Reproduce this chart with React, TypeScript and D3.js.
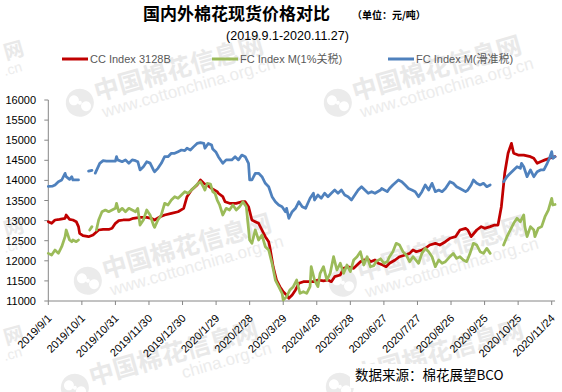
import React from "react";
import * as d3 from "d3";

// ---- Data (day offset from 2019-09-01, value in 元/吨) ----
const startDate = new Date(2019, 8, 1);

const xTickLabels = [
  "2019/9/1", "2019/10/1", "2019/10/31", "2019/11/30", "2019/12/30", "2020/1/29",
  "2020/2/28", "2020/3/29", "2020/4/28", "2020/5/28", "2020/6/27", "2020/7/27",
  "2020/8/26", "2020/9/25", "2020/10/25", "2020/11/24",
];
const yTicks = [11000, 11500, 12000, 12500, 13000, 13500, 14000, 14500, 15000, 15500, 16000];
const seriesNames = ["CC Index 3128B", "FC Index M(1%关税)", "FC Index M(滑准税)"];
const seriesColors = ["#C00000", "#9BBB59", "#4F81BD"];

const ccIndex: [number, number | null][] = [
  [0, 12973], [3, 12932], [6, 13015], [10, 13030], [15, 13057], [16, 13140], [19, 13030],
  [22, 13015], [25, 12973], [27, 12850], [28, 12684], [31, 12625], [36, 12600], [40, 12640],
  [45, 12766], [49, 12780], [54, 12780], [57, 12808], [60, 12932], [63, 12998], [67, 13015],
  [72, 13015], [76, 13057], [82, 13080], [88, 13080], [92, 13057], [95, 13015], [100, 13097],
  [104, 13140], [110, 13180], [116, 13221], [121, 13305], [124, 13595], [128, 13760],
  [133, 13886], [136, 14010], [139, 13927], [142, 13880], [146, 13800], [151, 13720],
  [152, 13680], [156, 13595], [158, 13470], [162, 13430], [168, 13430], [173, 13470],
  [176, 13470], [179, 13346], [182, 13015], [185, 12973], [188, 12932], [191, 12766],
  [194, 12600], [197, 12475], [198, 12350], [201, 11853], [204, 11522], [207, 11356],
  [210, 11231], [213, 11150], [215, 11067], [218, 11150], [221, 11274], [224, 11440],
  [228, 11480], [232, 11480], [237, 11480], [241, 11522], [246, 11500], [250, 11522],
  [253, 11480], [256, 11605], [261, 11647], [264, 11813], [268, 11853], [273, 11813],
  [276, 11895], [279, 11978], [282, 12020], [286, 12040], [288, 11978], [292, 12020],
  [295, 11938], [299, 11895], [302, 11853], [305, 11938], [310, 12020], [314, 12102],
  [319, 12144], [323, 12185], [326, 12268], [329, 12226], [334, 12268], [337, 12310],
  [341, 12393], [346, 12435], [350, 12393], [355, 12475], [359, 12560], [364, 12600],
  [368, 12766], [373, 12808], [375, 12766], [378, 12600], [383, 12766], [387, 12850],
  [390, 12808], [395, 12850], [399, 12890], [402, 12890], [405, 13346], [408, 14176],
  [411, 14675], [414, 14920], [416, 14675], [420, 14630], [425, 14630], [431, 14590],
  [434, 14550], [437, 14425], [440, 14465], [444, 14510], [448, 14550], [453, 14590],
];

const fcIndexTariff: [number, number | null][] = [
  [0, 12185], [3, 12144], [6, 12268], [9, 12185], [12, 12350], [15, 12600], [16, 12766],
  [19, 12517], [21, 12475], [22, 12517], [25, 12475], [27, 12517], [30, null],
  [37, 12766], [39, 12850], [41, null],
  [43, 12766], [45, 13015], [48, 13221], [51, 13263], [54, 13221], [57, 13263], [60, 13305],
  [61, 13430], [63, 13221], [66, 13305], [69, 13221], [72, 13305], [75, 13263], [78, 13221],
  [80, 13305], [82, 12890], [85, 13015], [88, 13263], [91, 13140], [94, 12890], [95, 12833],
  [98, 13015], [101, 13140], [104, 13430], [107, 13388], [110, 13512], [113, 13595],
  [116, 13555], [119, 13637], [122, 13720], [125, 13680], [128, 13760], [131, 13843],
  [134, 13927], [136, 13968], [139, 13820], [140, 13760], [142, 13927], [145, 13910],
  [147, 13720], [149, 13680], [151, 13512], [153, 13400], [156, 13140], [159, 13305],
  [162, 13263], [165, 13388], [168, 13263], [171, 13346], [174, 13470], [177, 13346],
  [180, 12517], [182, 12435], [185, 12766], [188, 12517], [191, 12640], [194, 12350],
  [197, 12268], [200, 11938], [203, 11522], [206, 11356], [209, 11190], [210, 11025],
  [213, 11107], [216, 11274], [219, 11356], [222, 11522], [225, 11190], [228, 11231],
  [231, 11190], [234, 11356], [235, 11853], [238, 11522], [241, 11356], [243, 11688],
  [246, 11853], [249, 11522], [252, 11688], [255, 12102], [258, 11771], [261, 11938],
  [264, 11688], [267, 11895], [270, 11730], [273, 12020], [276, 12102], [279, 12226],
  [282, 11895], [285, 12102], [288, 11850], [291, 11880], [293, 11980], [297, 12050],
  [300, 11938], [303, 11978], [305, 12102], [308, 12226], [311, 12435], [314, 12393],
  [317, 12226], [320, 12144], [323, 11978], [326, 12102], [331, 11938], [334, 12185],
  [337, 12310], [340, 12226], [343, 12102], [346, 11853], [349, 12020], [352, 11938],
  [355, 11978], [359, 12102], [362, 12185], [365, 12060], [368, 12102], [371, 12020],
  [374, 11978], [377, 12185], [380, 12435], [383, 12393], [386, 12226], [389, 12185],
  [392, 12310], [395, 12185], [400, null],
  [407, 12393], [410, 12600], [413, 12766], [416, 12932], [419, 13057], [422, 12973],
  [425, 13140], [426, 12850], [428, 12600], [431, 12850], [434, 12766], [435, 12600],
  [438, 12808], [441, 12850], [444, 13097], [447, 13263], [450, 13555], [451, 13388],
  [453, 13400],
];

const fcIndexSliding: [number, number | null][] = [
  [0, 13850], [4, 13860], [6, 13886], [9, 13968], [12, 14010], [15, 14176], [16, 14092],
  [19, 14027], [21, 14092], [22, 14010], [27, 14010], [29, null],
  [36, 14230], [39, 14250], [40, null],
  [42, 14180], [46, 14425], [49, 14490], [52, 14480], [60, 14480], [61, 14590], [62, 14510],
  [66, 14465], [69, 14510], [72, 14425], [75, 14510], [78, 14490], [80, 14465], [82, 14260],
  [85, 14340], [88, 14465], [91, 14430], [94, 14260], [95, 14215], [98, 14300], [101, 14425],
  [104, 14590], [107, 14590], [110, 14675], [113, 14675], [116, 14715], [119, 14756],
  [122, 14740], [124, 14800], [127, 14756], [130, 14840], [133, 14920], [136, 14940],
  [139, 14920], [140, 14800], [143, 14920], [146, 14880], [147, 14780], [150, 14700],
  [152, 14590], [156, 14425], [159, 14510], [164, 14510], [167, 14590], [170, 14510],
  [173, 14630], [176, 14590], [179, 14425], [180, 14010], [182, 14010], [185, 14176],
  [188, 14176], [191, 14092], [194, 13927], [197, 13843], [200, 13595], [203, 13470],
  [206, 13388], [209, 13346], [212, 13221], [213, 13305], [215, 13057], [218, 13221],
  [221, 13305], [224, 13470], [227, 13346], [230, 13305], [232, 13430], [234, 13555],
  [237, 13680], [238, 13512], [241, 13637], [244, 13555], [247, 13680], [250, 13595],
  [253, 13680], [256, 13760], [259, 13680], [262, 13760], [265, 13637], [268, 13595],
  [271, 13512], [274, 13637], [277, 13760], [280, 13843], [283, 13760], [286, 13680],
  [289, 13720], [292, 13680], [297, 13760], [298, 13800], [303, 13720], [305, 13800],
  [308, 13886], [313, 14010], [316, 13968], [319, 13886], [322, 13800], [325, 13760],
  [328, 13720], [331, 13595], [334, 13720], [337, 13886], [340, 13760], [343, 13927],
  [346, 13720], [349, 13760], [352, 13720], [355, 13800], [359, 13968], [362, 13927],
  [365, 13843], [368, 13800], [373, 13720], [375, 13760], [378, 13886], [380, 14010],
  [383, 13927], [386, 13886], [389, 13927], [392, 13843], [395, 13886], [400, null],
  [407, 13968], [410, 14092], [413, 14176], [416, 14260], [419, 14340], [422, 14300],
  [423, 14425], [425, 14340], [428, 14092], [431, 14260], [434, 14092], [437, 14215],
  [440, 14260], [443, 14260], [446, 14425], [448, 14550], [450, 14715], [451, 14550],
  [453, 14590],
];

const allSeries = [ccIndex, fcIndexTariff, fcIndexSliding];

// ---- Layout ----
const W = 562;
const H = 392;
const plotLeft = 48.3;
const plotTop = 100;
const plotBottom = 301;
const lastTickX = 551.7;
const endDate = new Date(2020, 10, 27);

const latin = "'Liberation Sans', Arial, 'Noto Sans CJK SC', sans-serif";
const cjk = "'Noto Sans CJK SC', 'Liberation Sans', sans-serif";

// Watermark ("中国棉花信息网 www.cottonchina.org.cn") placements
const watermarkText = "中国棉花信息网";
const watermarkUrl = "www.cottonchina.org.cn";
const watermarkSpots: { x: number; y: number; url: boolean; urlFrom: number; urlX: number }[] = [
  { x: 97, y: 101, url: true, urlFrom: 0, urlX: 2 },
  { x: 355, y: 101, url: true, urlFrom: 0, urlX: 2 },
  { x: 105, y: 279, url: true, urlFrom: 0, urlX: 2 },
  { x: 360, y: 281, url: true, urlFrom: 0, urlX: 2 },
  { x: 92, y: 386, url: true, urlFrom: 10, urlX: 90 },
  { x: 357, y: 385, url: false, urlFrom: 0, urlX: 2 },
];
// Fragments of watermarks at the left edge
const edgeFragments: { x: number; y: number }[] = [
  { x: 6, y: 60 },
  { x: 6, y: 237 },
  { x: 6, y: 345 },
];
const wmFill = "#e9e9e9";
const wmFillUrl = "#ececec";

function Watermark({ x, y, url, urlFrom, urlX }: { x: number; y: number; url: boolean; urlFrom: number; urlX: number }) {
  return (
    <g transform={`translate(${x},${y}) rotate(-16)`}>
      <circle cx={-17} cy={-3} r={14} fill="#ebebeb" />
      <circle cx={-22} cy={-7} r={5} fill="#fff" />
      <circle cx={-12} cy={2} r={5} fill="#fff" />
      <circle cx={-17} cy={-3} r={2} fill="#fff" />
      <text x={0} y={0} fontFamily={cjk} fontSize={25} fontWeight="bold" fill={wmFill}>
        {watermarkText}
      </text>
      {url && (
        <text x={urlX} y={18} fontFamily={latin} fontSize={17} fill={wmFillUrl}>
          {watermarkUrl.slice(urlFrom)}
        </text>
      )}
    </g>
  );
}

export default function App() {
  const parse = d3.timeParse("%Y/%m/%d");
  const tickDates = xTickLabels.map((s) => parse(s) as Date);
  const x = d3
    .scaleTime()
    .domain([tickDates[0], tickDates[tickDates.length - 1]])
    .range([plotLeft, lastTickX]);
  const y = d3.scaleLinear().domain([11000, 16000]).range([plotBottom, plotTop]);
  const xEnd = x(endDate);

  const line = d3
    .line<[number, number | null]>()
    .defined((d) => d[1] != null)
    .x((d) => x(d3.timeDay.offset(startDate, d[0])))
    .y((d) => y(d[1] as number))
    .curve(d3.curveLinear);

  const legendItems = [
    { x1: 62, x2: 88, tx: 90 },
    { x1: 212, x2: 238, tx: 240 },
    { x1: 388, x2: 414, tx: 416 },
  ];

  return (
    <svg
      width={W}
      height={H}
      style={{ position: "absolute", left: 0, top: 0, background: "#fff" }}
    >
      <rect x={0} y={0} width={W} height={H} fill="#fff" />

      {/* Watermarks */}
      {watermarkSpots.map((s, i) => (
        <Watermark key={i} {...s} />
      ))}
      {edgeFragments.map((f, i) => (
        <g key={"f" + i}>
          <text
            transform={`translate(${f.x},${f.y}) rotate(-16)`}
            fontFamily={cjk}
            fontSize={20}
            fontWeight="bold"
            fill={wmFill}
          >
            网
          </text>
          <text
            transform={`translate(${f.x - 1},${f.y + 16}) rotate(-16)`}
            fontFamily={latin}
            fontSize={14}
            fill={wmFillUrl}
          >
            .cn
          </text>
        </g>
      ))}

      {/* Title */}
      <text x={143} y={19.5} fontFamily={cjk} fontSize={17} fontWeight="bold" fill="#000">
        国内外棉花现货价格对比
      </text>
      <text x={352} y={19} fontFamily={cjk} fontSize={10} fontWeight="bold" fill="#000">
        （单位：元/吨）
      </text>
      <text x={287.5} y={40} textAnchor="middle" fontFamily={latin} fontSize={12.5} fill="#000">
        (2019.9.1-2020.11.27)
      </text>

      {/* Legend */}
      {legendItems.map((l, i) => (
        <g key={i}>
          <line x1={l.x1} x2={l.x2} y1={59} y2={59} stroke={seriesColors[i]} strokeWidth={3} />
          <text x={l.tx} y={63} fontFamily={latin} fontSize={11} fill="#595959">
            {seriesNames[i]}
          </text>
        </g>
      ))}

      {/* Y axis */}
      <line x1={plotLeft} x2={plotLeft} y1={plotTop} y2={plotBottom} stroke="#868686" strokeWidth={1} />
      {yTicks.map((t) => (
        <g key={t}>
          <line x1={plotLeft - 4} x2={plotLeft} y1={y(t)} y2={y(t)} stroke="#868686" />
          <text x={36} y={y(t) + 4} textAnchor="end" fontFamily={latin} fontSize={11} fill="#000">
            {t}
          </text>
        </g>
      ))}

      {/* X axis */}
      <line x1={plotLeft} x2={xEnd} y1={plotBottom} y2={plotBottom} stroke="#868686" strokeWidth={1} />
      {tickDates.map((d, i) => {
        const tx = x(d);
        return (
          <g key={i}>
            <line x1={tx} x2={tx} y1={plotBottom} y2={plotBottom + 4} stroke="#868686" />
            <text
              transform={`translate(${tx + 4},${plotBottom + 18}) rotate(-45)`}
              textAnchor="end"
              fontFamily={latin}
              fontSize={11}
              fill="#000"
            >
              {xTickLabels[i]}
            </text>
          </g>
        );
      })}

      {/* Series */}
      {allSeries.map((s, i) => (
        <path
          key={i}
          d={line(s) || ""}
          fill="none"
          stroke={seriesColors[i]}
          strokeWidth={2.75}
          strokeLinejoin="round"
          strokeLinecap="round"
        />
      ))}

      {/* Source (text box with white fill) */}
      <rect x={350} y={364} width={160} height={24} fill="#fff" />
      <text x={355} y={380} fontFamily={cjk} fontSize={13.5} fill="#000">
        数据来源：棉花展望BCO
      </text>
    </svg>
  );
}
